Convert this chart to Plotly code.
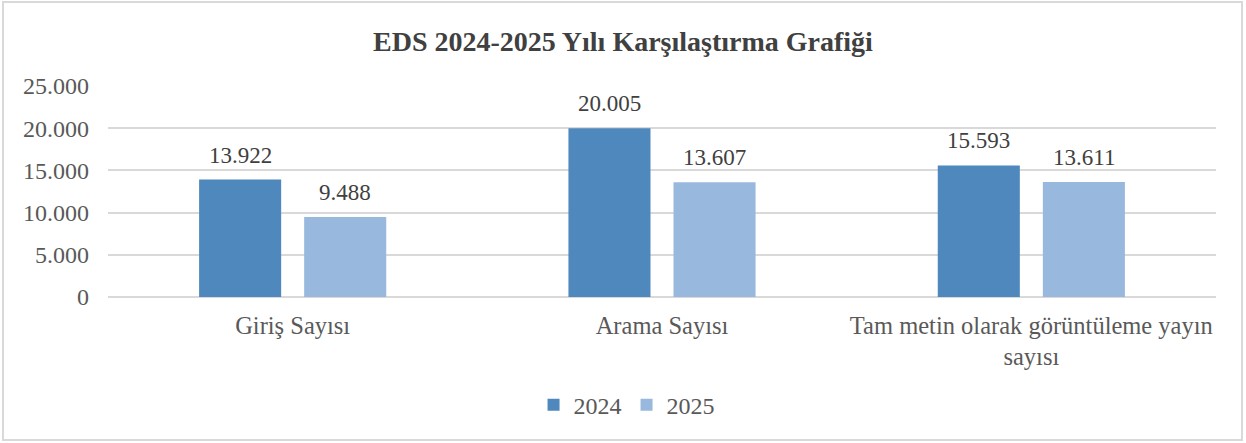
import plotly.graph_objects as go

categories = ["Giriş Sayısı", "Arama Sayısı", "Tam metin olarak görüntüleme yayın<br>sayısı"]
years = ["2024", "2025"]
values_2024 = [13922, 20005, 15593]
values_2025 = [9488, 13607, 13611]

colors = ["#4f88bc", "#98b8de"]
W, H = 1246, 443
ml, mr, mt, mb = 108, 30, 86, 146
pw = W - ml - mr
ph = H - mt - mb
bargap = 0.431
bargroupgap = 0.219

fig = go.Figure()
for name, vals, c in zip(years, [values_2024, values_2025], colors):
    fig.add_trace(go.Bar(
        x=categories, y=vals, name=name,
        marker_color=c, marker_line_width=0,
    ))

# data labels above the bars (offset to each bar's slot inside the group)
slot = pw / len(categories) * (1 - bargap) / 2
for k, vals in enumerate([values_2024, values_2025]):
    for cat, v in zip(categories, vals):
        fig.add_annotation(x=cat, y=v, text=f"{v:,}".replace(",", "."),
                           xshift=(k - 0.5) * slot, yshift=10,
                           yanchor="bottom", showarrow=False,
                           font=dict(family="Liberation Serif", size=23, color="#404040"))

# chart border
fig.add_shape(type="rect", xref="paper", yref="paper",
              x0=-(ml - 3) / pw, x1=1 + (mr - 4) / pw,
              y0=-(mb - 3) / ph, y1=1 + (mt - 2) / ph,
              line=dict(color="#d9d9d9", width=2), layer="below")

fig.update_layout(
    width=W, height=H,
    margin=dict(l=ml, r=mr, t=mt, b=mb),
    paper_bgcolor="white", plot_bgcolor="white",
    separators=",.",
    barmode="group", bargap=bargap, bargroupgap=bargroupgap,
    title=dict(text="<b>EDS 2024-2025 Yılı Karşılaştırma Grafiği</b>",
               x=0.5, xref="container", xanchor="center", y=1 - 41 / H, yanchor="middle",
               font=dict(family="Liberation Serif", size=28, color="#404040")),
    font=dict(family="Liberation Serif", color="#595959"),
    legend=dict(orientation="h", x=0.468, xanchor="center", xref="paper",
                y=-0.512, yanchor="middle",
                font=dict(family="Liberation Serif", size=24, color="#595959"),
                itemwidth=30, traceorder="normal"),
    showlegend=True,
)
fig.update_yaxes(range=[0, 25000], dtick=5000, tickformat=",",
                 showgrid=True, gridcolor="#d9d9d9", gridwidth=1.8,
                 zeroline=True, zerolinecolor="#d9d9d9", zerolinewidth=2,
                 tickfont=dict(family="Liberation Serif", size=24, color="#595959"),
                 ticks="", ticklabelstandoff=18, showline=False)
fig.update_xaxes(tickfont=dict(family="Liberation Serif", size=24.5, color="#595959"),
                 showline=False, ticks="", ticklabelstandoff=11)

fig.write_html("out.html", config={"displayModeBar": False},
               post_script="document.body.style.margin='0';")
